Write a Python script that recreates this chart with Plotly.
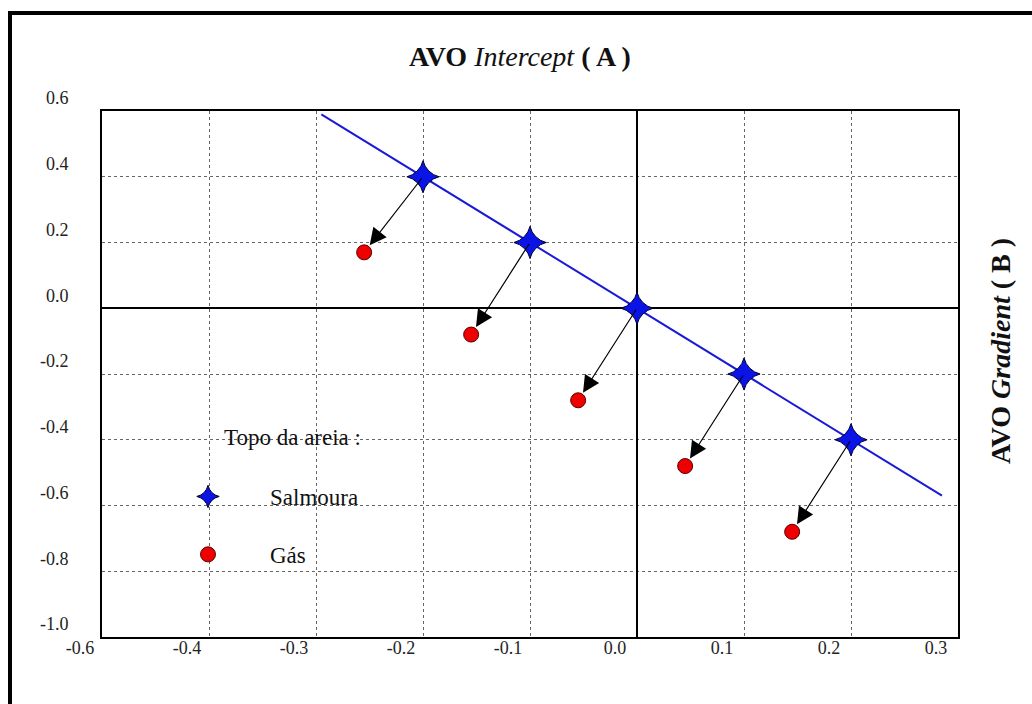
import plotly.graph_objects as go

# Top of brine sand (Salmoura): AVO intercept A and gradient B
brine_A = [-0.2, -0.1, 0.0, 0.1, 0.2]
brine_B = [0.4, 0.2, 0.0, -0.2, -0.4]

# Top of gas sand (Gás)
gas_A = [-0.255, -0.155, -0.055, 0.045, 0.145]
gas_B = [0.17, -0.08, -0.28, -0.48, -0.68]

# Background trend through the brine points
trend_A = [-0.295, 0.285]
trend_B = [0.59, -0.57]

x_tickvals = [-0.5, -0.4, -0.3, -0.2, -0.1, 0.0, 0.1, 0.2, 0.3]
x_ticktext = ["-0.6", "-0.4", "-0.3", "-0.2", "-0.1", "0.0", "0.1", "0.2", "0.3"]
y_tickvals = [0.6, 0.4, 0.2, 0.0, -0.2, -0.4, -0.6, -0.8, -1.0]
y_ticktext = ["0.6", "0.4", "0.2", "0.0", "-0.2", "-0.4", "-0.6", "-0.8", "-1.0"]

SERIF = "Liberation Serif"

W, H = 1032, 704
ML, MR, MT, MB = 102, 74, 111, 67
PW, PH = W - ML - MR, H - MT - MB


def px_x(px):
    return (px - ML) / PW


def px_y(py):
    return (H - MB - py) / PH


fig = go.Figure()

fig.add_trace(go.Scatter(
    x=trend_A, y=trend_B, mode="lines",
    line=dict(color="#1a1ad6", width=2),
    showlegend=False, hoverinfo="skip",
))

fig.add_trace(go.Scatter(
    x=brine_A, y=brine_B, mode="markers", name="Salmoura",
    legendgroup="s",
    marker=dict(symbol="star-diamond", size=23, color="#0a14e6",
                line=dict(color="#000033", width=1)),
))

fig.add_trace(go.Scatter(
    x=gas_A, y=gas_B, mode="markers", name="Gás",
    legendgroup="g",
    marker=dict(symbol="circle", size=15, color="#ee0000",
                line=dict(color="#5a0000", width=1)),
))

# Arrows from each brine point to its gas counterpart
annotations = []
for a0, b0, a1, b1 in zip(brine_A, brine_B, gas_A, gas_B):
    annotations.append(dict(
        x=a1, y=b1, ax=a0, ay=b0,
        xref="x", yref="y", axref="x", ayref="y",
        text="", showarrow=True,
        arrowhead=2, arrowsize=2.8, arrowwidth=1.2,
        arrowcolor="black", standoff=9,
    ))

# Right-hand axis caption for the gradient
annotations.append(dict(
    x=px_x(1000), y=px_y(351), xref="paper", yref="paper",
    xanchor="center", yanchor="middle",
    text="<b>AVO</b> <b><i>Gradient</i></b> <b>( B )</b>",
    textangle=-90, showarrow=False,
    font=dict(family=SERIF, size=28, color="#111"),
))

# Heading of the legend panel
annotations.append(dict(
    x=px_x(292), y=px_y(438), xref="paper", yref="paper",
    xanchor="center", yanchor="middle",
    text="Topo da areia :", showarrow=False,
    font=dict(family=SERIF, size=23, color="#111"),
))

shapes = [
    # white panel behind the legend
    dict(type="rect", xref="paper", yref="paper",
         x0=px_x(169), x1=px_x(365), y0=px_y(613), y1=px_y(409),
         fillcolor="white", line=dict(width=0), layer="between"),
    # outer frame (top and left edges)
    dict(type="line", xref="paper", yref="paper",
         x0=px_x(8), x1=px_x(1040), y0=px_y(13), y1=px_y(13),
         line=dict(color="black", width=4), layer="above"),
    dict(type="line", xref="paper", yref="paper",
         x0=px_x(10), x1=px_x(10), y0=px_y(11), y1=px_y(710),
         line=dict(color="black", width=4), layer="above"),
]

tick_font = dict(family=SERIF, size=18, color="#222")

fig.update_layout(
    width=W, height=H,
    margin=dict(l=ML, r=MR, t=MT, b=MB),
    paper_bgcolor="white", plot_bgcolor="white",
    font=dict(family=SERIF, size=18, color="#111"),
    xaxis=dict(
        range=[-0.5, 0.3], tickmode="array",
        tickvals=x_tickvals, ticktext=x_ticktext,
        tickfont=tick_font,
        ticklabelshift=-22, ticklabelstandoff=-7,
        showgrid=True, gridcolor="#666666", gridwidth=1, griddash="dot",
        zeroline=True, zerolinecolor="black", zerolinewidth=1.5,
        showline=True, linecolor="black", linewidth=2, mirror=True,
        ticks="", automargin=False,
    ),
    yaxis=dict(
        range=[-1.0, 0.6], tickmode="array",
        tickvals=y_tickvals, ticktext=y_ticktext,
        tickfont=tick_font,
        ticklabelshift=-13, ticklabelstandoff=28,
        showgrid=True, gridcolor="#666666", gridwidth=1, griddash="dot",
        zeroline=True, zerolinecolor="black", zerolinewidth=1.5,
        showline=True, linecolor="black", linewidth=2, mirror=True,
        ticks="", automargin=False,
    ),
    title=dict(
        text="<b>AVO</b> <i>Intercept</i> <b>( A )</b>",
        x=520 / W, y=1 - 56 / H, xanchor="center", yanchor="middle",
        font=dict(family=SERIF, size=28, color="#111"),
    ),
    legend=dict(
        x=px_x(146), y=px_y(475), xanchor="left", yanchor="top",
        bgcolor="rgba(0,0,0,0)", borderwidth=0,
        itemwidth=114, tracegroupgap=25,
        font=dict(family=SERIF, size=23, color="#111"),
    ),
    annotations=annotations,
    shapes=shapes,
    showlegend=True,
)

fig.write_html("out.html")
